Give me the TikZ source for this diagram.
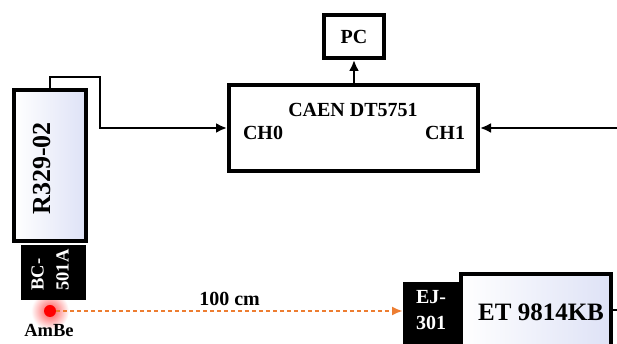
\documentclass[tikz,border=0pt]{standalone}
\usepackage{fontspec}
\setmainfont{Liberation Serif}
\usetikzlibrary{arrows.meta,positioning}
\definecolor{naranja}{RGB}{237,125,49}
\definecolor{lavanda}{RGB}{222,226,246}

\begin{document}
\begin{tikzpicture}[x=1pt, y=1pt, font=\bfseries\fontsize{20}{26}\selectfont,
    caja/.style={draw, line width=4pt, fill=white, inner sep=0pt},
    negra/.style={fill=black, inner sep=0pt},
    flecha/.style={line width=2.8pt, -{Latex[length=11pt,width=10pt]}}]
        \useasboundingbox (0,0) rectangle (617,344);
        \clip (0,0) rectangle (617,344);

        % Brillo de la fuente (debajo de todo)
        \node[circle, minimum size=38pt, inner color=red!70, outer color=white] (halo) at (50,33) {};

        % Fotomultiplicador con centelleador
        \node[caja, left color=white, right color=lavanda, minimum width=72pt, minimum height=151pt] (pmt) at (50,178.5) {};
        \node[rotate=90, font=\bfseries\fontsize{26}{28}\selectfont] (pmttxt) at ([xshift=-8pt,yshift=-3pt]pmt.center) {R329-02};
        \node[negra, minimum width=65pt, minimum height=55pt] (bc) at (53.5,71.5) {};
        \node[rotate=90, text=white, align=left, font=\bfseries\fontsize{18.5}{25}\selectfont] (bctxt) at (50,74) {BC-\\501A};

        % Fuente AmBe
        \node[circle, fill=red, minimum size=12pt, inner sep=0pt] (src) at (50,33) {};
        \node[font=\bfseries\fontsize{18.5}{20}\selectfont] (ambe) at (49,14) {AmBe};

        % Digitalizador y PC
        \node[caja, minimum width=249pt, minimum height=86pt] (caen) at (353.5,216) {};
        \node (caentit) at (353,234) {CAEN DT5751};
        \node (ch0) at (263,211) {CH0};
        \node (ch1) at (445,211) {CH1};
        \node[caja, minimum width=60pt, minimum height=43pt] (pc) at (354,307.5) {PC};

        % Segundo detector
        \node[caja, left color=white, right color=lavanda, minimum width=150pt, minimum height=84pt, anchor=north west] (et) at (459,72) {};
        \node[font=\bfseries\fontsize{25}{28}\selectfont] (ettxt) at (541,32) {ET 9814KB};
        \node[negra, minimum width=56pt, minimum height=70pt, anchor=north west] (ej) at (403,62) {};
        \node[text=white, align=center] (ejtxt) at (431,34) {EJ-\\301};

        % Conexiones
        \coordinate (codo) at (100,267);
        \coordinate (entrada) at (630,216);
        \coordinate (salida) at (630,34);
        \draw[flecha] (pmt.north) |- (codo) |- (caen.west);
        \draw[flecha] (entrada) -- (caen.east);
        \draw[flecha] (pc.south |- caen.north) -- (pc.south);
        \draw[line width=2.8pt] (salida -| et.east) -- (salida);

        % Distancia fuente-detector
        \draw[naranja, line width=2.2pt, dash pattern=on 4pt off 3pt, -{Latex[length=11pt,width=9pt]}]
            (src.east) -- (src.east -| ej.west) node[midway, above=1pt, black] {100 cm};
    \end{tikzpicture}
\end{document}
